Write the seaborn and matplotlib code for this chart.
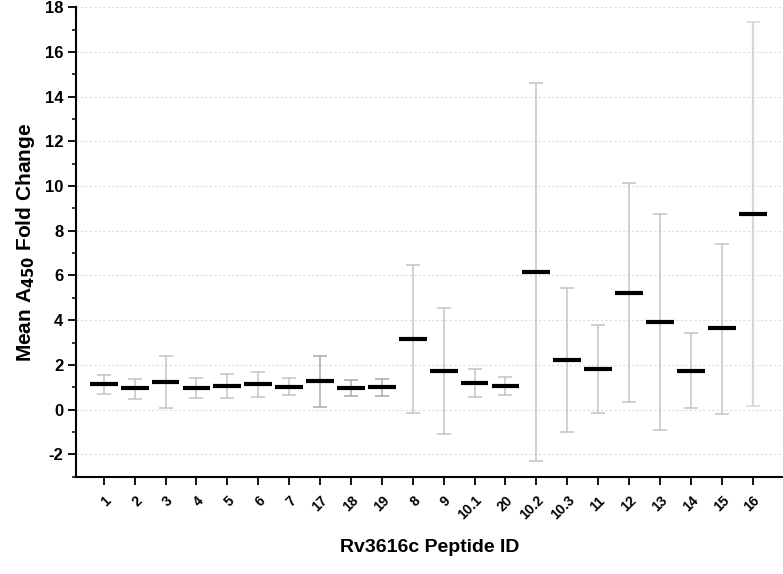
"""
Rv3616c peptide ELISA: mean A450 fold change with error bars per peptide.
"""

import matplotlib
matplotlib.use("Agg")
import matplotlib.pyplot as plt
from matplotlib.ticker import MultipleLocator
import seaborn as sns
import pandas as pd

# values
PEPTIDES = ["1", "2", "3", "4", "5", "6", "7", "17", "18", "19", "8", "9",
            "10.1", "20", "10.2", "10.3", "11", "12", "13", "14", "15", "16"]
MEANS = [1.14, 0.95, 1.24, 0.98, 1.07, 1.14, 1.02, 1.26, 0.96, 0.99, 3.14, 1.72,
         1.20, 1.04, 6.15, 2.22, 1.80, 5.23, 3.92, 1.75, 3.63, 8.75]
UPPER = [1.54, 1.36, 2.38, 1.43, 1.58, 1.69, 1.41, 2.40, 1.33, 1.38, 6.46, 4.53,
         1.80, 1.44, 14.60, 5.42, 3.78, 10.12, 8.75, 3.42, 7.42, 17.32]
LOWER = [0.71, 0.49, 0.07, 0.53, 0.53, 0.56, 0.64, 0.10, 0.62, 0.59, -0.13, -1.11,
         0.58, 0.64, -2.31, -0.98, -0.16, 0.34, -0.92, 0.09, -0.18, 0.18]

# whisker shade per peptide (17-19 are a darker grey, 16 lighter)
BAR_COLORS = ["#c4c4c4"] * 7 + ["#a8a8a8"] * 3 + ["#c4c4c4"] * 11 + ["#d6d6d6"]

df = pd.DataFrame({"Peptide": PEPTIDES, "Mean": MEANS,
                   "Upper": UPPER, "Lower": LOWER})
df["pos"] = range(len(df))

sns.set_theme(style="ticks")
plt.rcParams["font.family"] = ["Liberation Sans", "DejaVu Sans"]
plt.rcParams["font.weight"] = "bold"
plt.rcParams["axes.unicode_minus"] = False
for key in ["text.color", "axes.labelcolor", "xtick.color", "ytick.color"]:
    plt.rcParams[key] = "black"

fig = plt.figure(figsize=(7.83, 5.74), dpi=100)
ax = fig.add_axes([0.097, 0.1695, 0.903, 0.818])

for _, r in df.iterrows():
    c = BAR_COLORS[int(r["pos"])]
    lw = 1.6 if r["Peptide"] == "16" else 1.1
    ax.errorbar(r["pos"], r["Mean"],
                yerr=[[r["Mean"] - r["Lower"]], [r["Upper"] - r["Mean"]]],
                fmt="none", ecolor=c, elinewidth=lw, capsize=5, capthick=1.1,
                zorder=2)

ax.hlines(df["Mean"], df["pos"] - 0.45, df["pos"] + 0.45,
          color="black", linewidth=3, zorder=3)

ax.set_xlim(-0.9, 21.98)
ax.set_ylim(-3, 18)
ax.yaxis.set_major_locator(MultipleLocator(2))
ax.yaxis.set_minor_locator(MultipleLocator(1))
ax.set_xticks(df["pos"])
ax.set_xticklabels(df["Peptide"], rotation=45, ha="right",
                   rotation_mode="anchor", fontsize=10, fontweight="bold")
ax.set_yticks(range(-2, 19, 2))
ax.set_yticklabels([str(v) for v in range(-2, 19, 2)], fontsize=12,
                   fontweight="bold")
ax.tick_params(axis="y", which="major", length=5.5, width=1.3,
               pad=3.5, color="black", labelcolor="black")
ax.tick_params(axis="y", which="minor", length=3, width=1.1, color="black")
ax.tick_params(axis="x", length=6, width=1.3, pad=6, color="black",
               labelcolor="black")

ax.yaxis.grid(True, which="major", color="#dcdcdc", linestyle=(0, (2, 2)),
              linewidth=0.8)
ax.set_axisbelow(True)

sns.despine(ax=ax)
for s in ["left", "bottom"]:
    ax.spines[s].set_linewidth(1.5)
    ax.spines[s].set_color("black")

ax.set_ylabel("Mean A$_{\\mathbf{450}}$ Fold Change", fontsize=15,
              fontweight="bold", labelpad=6, color="black")
ax.set_xlabel("Rv3616c Peptide ID", fontsize=14, fontweight="bold",
              color="black")
ax.xaxis.set_label_coords(0.5, -0.132)

fig.savefig("out.png", dpi=100)
